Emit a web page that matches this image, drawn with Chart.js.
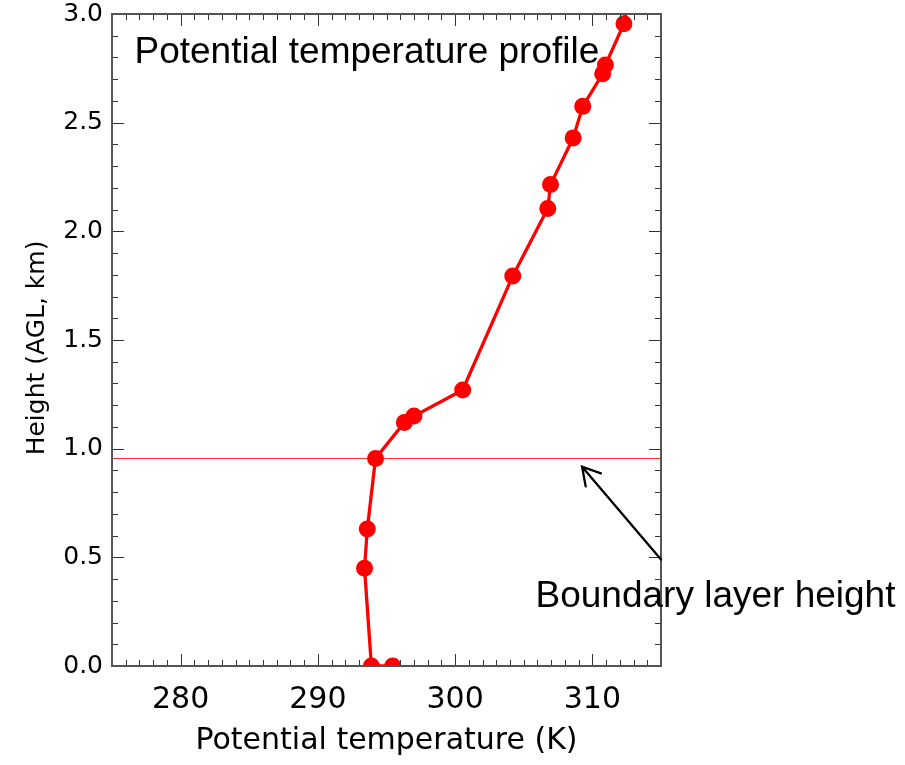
<!DOCTYPE html>
<html>
<head>
<meta charset="utf-8">
<title>Potential temperature profile</title>
<script src="https://cdn.jsdelivr.net/npm/chart.js@4.4.1/dist/chart.umd.min.js"></script>
<style>
html, body { margin: 0; padding: 0; background: #fff; }
#wrap { position: relative; width: 905px; height: 765px; }
</style>
</head>
<body>
<div id="wrap"><canvas id="thetaProfile"></canvas></div>
<script>
// sounding: potential temperature (K) vs height above ground (km), surface first
var thetaK   = [295.45, 293.9, 293.4, 293.6, 294.2, 296.3, 297.0, 300.55, 304.2, 306.75, 306.95, 308.6, 309.3, 310.75, 310.95, 312.3, 312.7];
var heightKm = [0.0,    0.0,   0.45,  0.63,  0.955, 1.12,  1.15,  1.27,   1.795, 2.105,  2.215,  2.43,  2.575, 2.725,  2.765,  2.955, 3.1];

// boundary layer height marker
var blTheta  = [275, 315];
var blHeight = [0.955, 0.955];

// arrow pointing at the boundary layer line (tail, tip)
var arrowTheta  = [315, 309.25];
var arrowHeight = [0.49, 0.917];

var xRange = [275, 315];
var yRange = [0, 3];
var xTickValues = [280, 290, 300, 310];
var xMajor = 10, xMinor = 1;
var yMajor = 0.5, yMinor = 0.1;

var profilePoints = thetaK.map(function(t, i) { return { x: t, y: heightKm[i] }; });
var blPoints = blTheta.map(function(t, i) { return { x: t, y: blHeight[i] }; });

var axisFont = '"DejaVu Sans", sans-serif';
var noteFont = '"Liberation Sans", Arial, sans-serif';

// IDL style frame: box with inward ticks on all four sides
var frameTicks = {
    id: 'frameTicks',
    afterDatasetsDraw: function(chart) {
        var ctx = chart.ctx, a = chart.chartArea;
        var xs = chart.scales.x, ys = chart.scales.y;
        ctx.save();
        ctx.strokeStyle = '#333';
        ctx.lineWidth = 1;
        ctx.beginPath();
        var nx = Math.round((xRange[1] - xRange[0]) / xMinor);
        for (var i = 0; i <= nx; i++) {
            var v = xRange[0] + i * xMinor;
            var px = Math.round(xs.getPixelForValue(v)) + 0.5;
            var len = (Math.round(v) % xMajor === 0) ? 12 : 6;
            ctx.moveTo(px, a.bottom); ctx.lineTo(px, a.bottom - len);
            ctx.moveTo(px, a.top); ctx.lineTo(px, a.top + len);
        }
        var ny = Math.round((yRange[1] - yRange[0]) / yMinor);
        for (var j = 0; j <= ny; j++) {
            var py = Math.round(ys.getPixelForValue(yRange[0] + j * yMinor)) + 0.5;
            var lenY = (j % Math.round(yMajor / yMinor) === 0) ? 12 : 6;
            ctx.moveTo(a.left, py); ctx.lineTo(a.left + lenY, py);
            ctx.moveTo(a.right, py); ctx.lineTo(a.right - lenY, py);
        }
        ctx.stroke();
        ctx.strokeStyle = '#555';
        ctx.lineWidth = 2;
        ctx.strokeRect(a.left, a.top, a.right - a.left, a.bottom - a.top);
        ctx.restore();
    }
};

var notes = {
    id: 'notes',
    afterDraw: function(chart) {
        var ctx = chart.ctx;
        var xs = chart.scales.x, ys = chart.scales.y;
        ctx.save();
        // arrow
        var x0 = xs.getPixelForValue(arrowTheta[0]), y0 = ys.getPixelForValue(arrowHeight[0]);
        var x1 = xs.getPixelForValue(arrowTheta[1]), y1 = ys.getPixelForValue(arrowHeight[1]);
        var ang = Math.atan2(y0 - y1, x0 - x1);
        var head = 20, spread = Math.PI / 6;
        ctx.strokeStyle = '#000';
        ctx.lineWidth = 2.3;
        ctx.lineCap = 'round';
        ctx.beginPath();
        ctx.moveTo(x0, y0); ctx.lineTo(x1, y1);
        ctx.moveTo(x1 + head * Math.cos(ang - spread), y1 + head * Math.sin(ang - spread));
        ctx.lineTo(x1, y1);
        ctx.lineTo(x1 + head * Math.cos(ang + spread), y1 + head * Math.sin(ang + spread));
        ctx.stroke();
        // labels
        ctx.fillStyle = '#000';
        ctx.textBaseline = 'alphabetic';
        ctx.textAlign = 'left';
        ctx.font = '37px ' + noteFont;
        ctx.fillText('Potential temperature profile', 134.5, 63);
        ctx.fillText('Boundary layer height', 535.5, 607);
        ctx.restore();
    }
};

var ctx = document.getElementById('thetaProfile');
var profileChart = new Chart(ctx, {
    type: 'scatter',
    data: {
        datasets: [
            {
                label: 'Potential temperature',
                data: profilePoints,
                showLine: true,
                borderColor: '#ff0000',
                backgroundColor: '#ff0000',
                borderWidth: 3.3,
                pointRadius: heightKm.map(function(h) { return h > yRange[1] ? 0 : 8.5; }),
                pointBorderWidth: 0,
                pointHoverRadius: 8.5,
                clip: 0
            },
            {
                label: 'Boundary layer height',
                data: blPoints,
                showLine: true,
                borderColor: '#ff2a2a',
                borderWidth: 1,
                pointRadius: 0,
                clip: 0
            }
        ]
    },
    options: {
        responsive: true,
        maintainAspectRatio: false,
        animation: false,
        layout: { padding: { left: 0, top: 14, right: 244, bottom: 0 } },
        plugins: {
            legend: { display: false },
            tooltip: { enabled: false }
        },
        scales: {
            x: {
                type: 'linear',
                position: 'bottom',
                min: xRange[0],
                max: xRange[1],
                afterBuildTicks: function(scale) {
                    scale.ticks = xTickValues.map(function(v) { return { value: v }; });
                },
                afterFit: function(scale) {
                    scale.height = 99;
                    scale.paddingLeft = 0;
                    scale.paddingRight = 0;
                },
                grid: { display: false, drawTicks: false },
                border: { display: false },
                ticks: {
                    color: '#000',
                    padding: 16,
                    maxRotation: 0,
                    font: { family: axisFont, size: 30 },
                    callback: function(v) { return v; }
                },
                title: {
                    display: true,
                    text: 'Potential temperature (K)',
                    color: '#000',
                    font: { family: axisFont, size: 30 },
                    padding: { top: 0, bottom: 6 }
                }
            },
            y: {
                type: 'linear',
                position: 'left',
                min: yRange[0],
                max: yRange[1],
                afterFit: function(scale) {
                    scale.width = 112;
                    scale.paddingTop = 0;
                    scale.paddingBottom = 0;
                },
                grid: { display: false, drawTicks: false },
                border: { display: false },
                ticks: {
                    color: '#000',
                    padding: 9,
                    stepSize: yMajor,
                    font: { family: axisFont, size: 25 },
                    callback: function(v) { return v.toFixed(1); }
                },
                title: {
                    display: true,
                    text: 'Height (AGL, km)  ',
                    color: '#000',
                    font: { family: axisFont, size: 25 },
                    padding: { top: 22, bottom: 0 }
                }
            }
        }
    },
    plugins: [frameTicks, notes]
});
</script>
</body>
</html>
